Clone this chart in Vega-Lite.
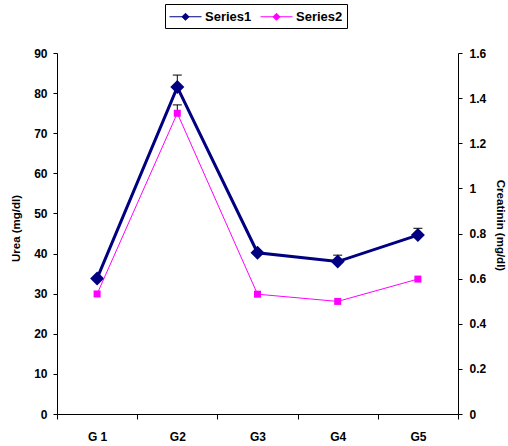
{
  "$schema": "https://vega.github.io/schema/vega-lite/v6.json",
  "width": 401,
  "height": 361,
  "autosize": {"type": "none"},
  "padding": {"left": 57, "top": 53, "right": 50, "bottom": 32},
  "background": "white",
  "data": {
    "values": [
      {"group": "G 1", "urea": 33.8, "urea_hi": null, "creat": 0.532, "creat_hi": null},
      {"group": "G2", "urea": 81.5, "urea_hi": 84.5, "creat": 1.333, "creat_hi": 1.37},
      {"group": "G3", "urea": 40.2, "urea_hi": null, "creat": 0.531, "creat_hi": null},
      {"group": "G4", "urea": 38.0, "urea_hi": 39.6, "creat": 0.499, "creat_hi": null},
      {"group": "G5", "urea": 44.6, "urea_hi": 46.3, "creat": 0.598, "creat_hi": null}
    ]
  },
  "config": {
    "view": {"stroke": null},
    "font": "Liberation Sans",
    "axis": {
      "grid": false,
      "domainColor": "black",
      "tickColor": "black",
      "labelColor": "black",
      "titleColor": "black",
      "labelFont": "Liberation Sans",
      "titleFont": "Liberation Sans",
      "labelFontWeight": "bold",
      "titleFontWeight": "bold",
      "labelFontSize": 12,
      "titleFontSize": 11.5
    }
  },
  "encoding": {
    "x": {
      "field": "group",
      "type": "nominal",
      "scale": {"domain": ["G 1", "G2", "G3", "G4", "G5"], "paddingInner": 0, "paddingOuter": 0},
      "axis": {
        "title": null,
        "labelAngle": 0,
        "tickBand": "extent",
        "tickSize": 5,
        "labelPadding": 12,
        "domainWidth": 1
      }
    }
  },
  "layer": [
    {
      "encoding": {
        "y": {
          "type": "quantitative",
          "scale": {"domain": [0, 90]},
          "axis": {
            "orient": "left",
            "title": "Urea (mg/dl)",
            "values": [0, 10, 20, 30, 40, 50, 60, 70, 80, 90],
            "tickSize": 4,
            "labelPadding": 6,
            "titlePadding": 12,
            "titleY": 175
          }
        }
      },
      "layer": [
        {
          "transform": [{"filter": "datum.urea_hi != null"}],
          "mark": {"type": "rule", "color": "black", "strokeWidth": 1, "opacity": 1},
          "encoding": {"y": {"field": "urea"}, "y2": {"field": "urea_hi"}}
        },
        {
          "transform": [{"filter": "datum.urea_hi != null"}],
          "mark": {"type": "tick", "color": "black", "size": 9, "thickness": 1, "orient": "horizontal", "opacity": 1},
          "encoding": {"y": {"field": "urea_hi"}}
        },
        {
          "mark": {"type": "line", "strokeWidth": 3},
          "encoding": {
            "y": {"field": "urea"},
            "color": {"datum": "Series1", "type": "nominal"}
          }
        },
        {
          "mark": {"type": "point", "shape": "diamond", "filled": true, "size": 196, "opacity": 1},
          "encoding": {
            "y": {"field": "urea"},
            "color": {"datum": "Series1", "type": "nominal"}
          }
        }
      ]
    },
    {
      "encoding": {
        "y": {
          "type": "quantitative",
          "scale": {"domain": [0, 1.6]},
          "axis": {
            "orient": "right",
            "title": "Creatinin (mg/dl)",
            "values": [0, 0.2, 0.4, 0.6, 0.8, 1, 1.2, 1.4, 1.6],
            "format": "~g",
            "tickSize": 4,
            "labelPadding": 7,
            "titlePadding": 9,
            "titleY": 172
          }
        }
      },
      "layer": [
        {
          "transform": [{"filter": "datum.creat_hi != null"}],
          "mark": {"type": "rule", "color": "black", "strokeWidth": 1, "opacity": 1},
          "encoding": {"y": {"field": "creat"}, "y2": {"field": "creat_hi"}}
        },
        {
          "transform": [{"filter": "datum.creat_hi != null"}],
          "mark": {"type": "tick", "color": "black", "size": 9, "thickness": 1, "orient": "horizontal", "opacity": 1},
          "encoding": {"y": {"field": "creat_hi"}}
        },
        {
          "mark": {"type": "line", "strokeWidth": 1},
          "encoding": {
            "y": {"field": "creat"},
            "color": {"datum": "Series2", "type": "nominal"}
          }
        },
        {
          "mark": {"type": "point", "shape": "square", "filled": true, "size": 49, "opacity": 1},
          "encoding": {
            "y": {"field": "creat"},
            "color": {
              "datum": "Series2",
              "type": "nominal",
              "scale": {"domain": ["Series1", "Series2"], "range": ["#000080", "#FF00FF"]},
              "legend": {
                "title": null,
                "orient": "none",
                "legendX": 108,
                "legendY": -49,
                "direction": "horizontal",
                "strokeColor": "black",
                "padding": 4,
                "symbolType": "M-1,0L3,0M0.56,0L1,-0.44L1.44,0L1,0.44Z",
                "symbolSize": 256,
                "symbolStrokeWidth": 1,
                "labelFont": "Liberation Sans",
                "labelFontWeight": "bold",
                "labelFontSize": 13,
                "labelColor": "black",
                "labelOffset": 19,
                "columnPadding": 6,
                "encode": {
                  "symbols": {
                    "shape": {"value": {"expr": "datum.value === 'Series1' ? 'M-1,0L3,0M0.56,0L1,-0.44L1.44,0L1,0.44Z' : 'M-1,0L3,0M0.62,-0.38L1.38,-0.38L1.38,0.38L0.62,0.38Z'"}},
                    "fill": {
                      "condition": {"test": "datum.value === 'Series1'", "value": "#000080"},
                      "value": "#FF00FF"
                    },
                    "stroke": {
                      "condition": {"test": "datum.value === 'Series1'", "value": "#000080"},
                      "value": "#FF00FF"
                    },
                    "strokeWidth": {
                      "condition": {"test": "datum.value === 'Series1'", "value": 3},
                      "value": 1
                    },
                    "opacity": {"value": 1},
                    "fillOpacity": {"value": 1},
                    "strokeOpacity": {"value": 1},
                    "size": {"value": 256}
                  }
                }
              }
            }
          }
        }
      ]
    }
  ],
  "resolve": {"scale": {"y": "independent"}}
}
